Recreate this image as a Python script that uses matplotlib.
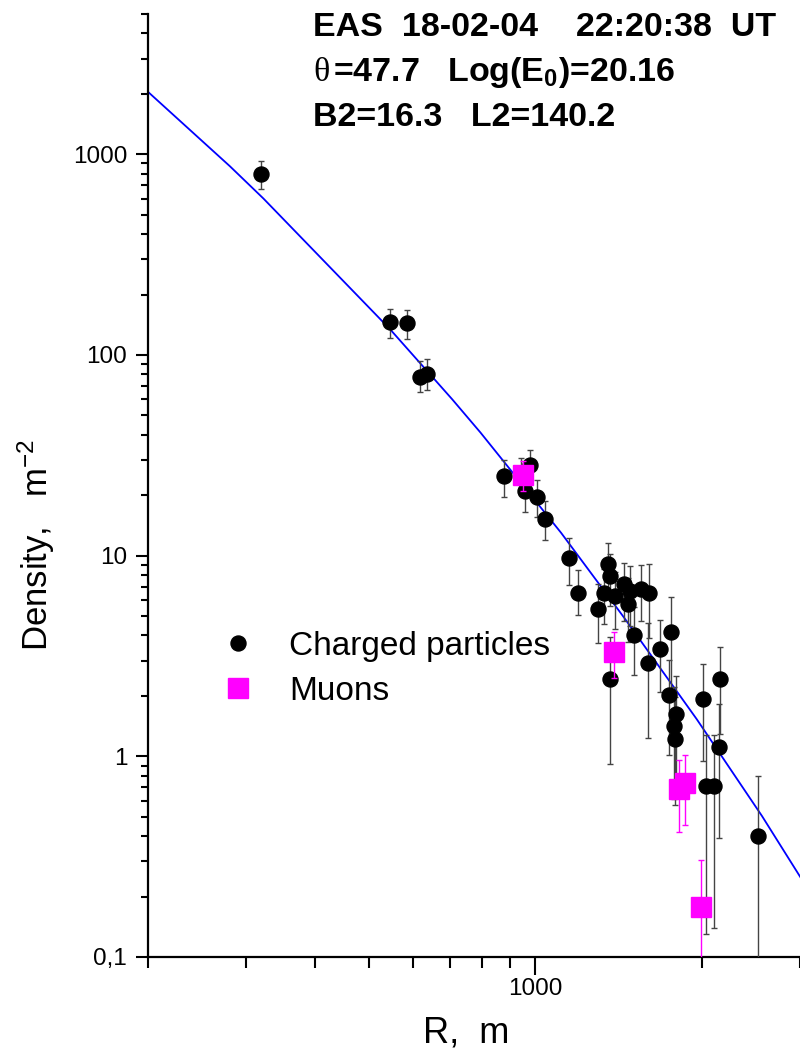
import numpy as np
import matplotlib
matplotlib.use("Agg")
import matplotlib.pyplot as plt
from matplotlib.lines import Line2D
from matplotlib.ticker import LogLocator, NullFormatter, FixedLocator, FixedFormatter, FuncFormatter

plt.rcParams['font.family'] = ['Liberation Sans', 'DejaVu Sans']
plt.rcParams['mathtext.fontset'] = 'custom'
plt.rcParams['mathtext.rm'] = 'Liberation Sans'
plt.rcParams['mathtext.it'] = 'Liberation Sans'
plt.rcParams['mathtext.bf'] = 'Liberation Sans:bold'

# charged particles: distance (m), density (m^-2), lower / upper errors
r_ch = [320, 546, 587, 620, 636, 877, 941, 959, 977, 1007, 1039, 1148, 1192, 1295,
        1331, 1350, 1361, 1361, 1393, 1446, 1468, 1483, 1503, 1552, 1600, 1594,
        1680, 1756, 1739, 1795, 1775, 1785, 2005, 2030, 2101, 2148, 2143, 2518]
rho_ch = [793, 146, 144, 78, 80, 25.0, 25.5, 21.0, 28.3, 19.7, 15.3, 9.68, 6.55, 5.45,
          6.55, 9.07, 7.9, 2.42, 6.3, 7.2, 5.73, 6.67, 4.03, 6.85, 6.5, 2.93,
          3.43, 4.15, 2.02, 1.62, 1.41, 1.22, 1.92, 0.71, 0.71, 2.42, 1.11, 0.40]
err_lo_ch = [120, 24, 24, 13, 13, 5.3, 5.3, 4.5, 5.3, 4.1, 3.4, 2.55, 1.5, 1.8,
             2.0, 2.45, 2.3, 1.5, 2.0, 2.5, 2.0, 2.2, 1.5, 2.1, 2.6, 1.7,
             1.35, 2.05, 1.0, 0.9, 0.8, 0.65, 0.97, 0.58, 0.57, 1.13, 0.72, 0.399]
err_hi_ch = [128, 24, 24, 15, 15, 5.0, 5.3, 4.5, 5.3, 4.1, 3.4, 2.6, 1.95, 1.8,
             2.0, 2.45, 2.3, 1.5, 2.0, 2.0, 2.0, 2.2, 1.5, 2.1, 2.6, 1.7,
             1.33, 2.05, 1.0, 0.9, 0.8, 0.75, 0.96, 0.56, 0.56, 1.1, 0.71, 0.40]

# muons
r_mu = [949, 1384, 1813, 1863, 1989]
rho_mu = [25.3, 3.31, 0.69, 0.733, 0.177]
err_lo_mu = [4.4, 0.84, 0.27, 0.28, 0.176]
err_hi_mu = [4.4, 0.83, 0.27, 0.28, 0.127]

# fitted LDF curve
r_fit = [200, 281, 323, 547, 708, 796, 1112, 1448, 1954, 2562, 3027]
rho_fit = [2047, 872, 602, 134, 60.0, 41.0, 13.0, 4.87, 1.53, 0.504, 0.242]

header = ["EAS  18-02-04    22:20:38  UT",
          "=47.7   Log(E$_\\mathbf{0}$)=20.16",
          "B2=16.3   L2=140.2"]

fig = plt.figure(figsize=(8, 10.56), dpi=100)
ax = fig.add_axes([148/800, 1-957/1056, 1-148/800, (957-14)/1056])

ax.plot(r_fit, rho_fit, color='#0000ff', lw=1.3, zorder=2)
ax.errorbar(r_ch, rho_ch, yerr=[err_lo_ch, err_hi_ch], fmt='o', color='black',
            ms=10.8, ecolor='#444444', elinewidth=1.0, capsize=2, capthick=1.0, zorder=3)
ax.errorbar(r_mu, rho_mu, yerr=[err_lo_mu, err_hi_mu], fmt='s', color='#ff00ff',
            ms=15, ecolor='#ff00ff', elinewidth=1.0, capsize=2, capthick=1.0, zorder=4)

ax.set_xscale('log')
ax.set_yscale('log')
ax.set_xlim(200, 3000)
ax.set_ylim(0.1, 5000)

ax.xaxis.set_major_locator(FixedLocator([1000]))
ax.xaxis.set_major_formatter(FixedFormatter(['1000']))
ax.xaxis.set_minor_locator(LogLocator(base=10, subs=range(2, 10)))
ax.xaxis.set_minor_formatter(NullFormatter())
ax.yaxis.set_major_locator(LogLocator(base=10))
ax.yaxis.set_major_formatter(FuncFormatter(lambda v, p: '0,1' if v < 0.5 else '%d' % v))
ax.yaxis.set_minor_locator(LogLocator(base=10, subs=range(2, 10)))
ax.yaxis.set_minor_formatter(NullFormatter())

for s in ['top', 'right']:
    ax.spines[s].set_visible(False)
for s in ['left', 'bottom']:
    ax.spines[s].set_linewidth(1.6)

ax.tick_params(axis='both', which='both', direction='out', width=1.5, labelsize=17.5)
ax.tick_params(axis='y', which='major', length=9, pad=6)
ax.tick_params(axis='y', which='minor', length=5)
ax.tick_params(axis='x', which='major', length=13, pad=2)
ax.tick_params(axis='x', which='minor', length=8)

ax.set_xlabel("R,  m", fontsize=26, labelpad=12)
ax.xaxis.set_label_coords((466-148)/652, -0.062)
ax.set_ylabel("Density,   m$^{-2}$", fontsize=25)
ax.yaxis.set_label_coords((57-148)/652, (957-545)/943)

handles = [Line2D([], [], ls='none', marker='o', color='black', ms=10.8),
           Line2D([], [], ls='none', marker='s', color='#ff00ff', ms=15)]
fig.legend(handles, ["Charged particles", "Muons"], loc='upper left',
           bbox_to_anchor=(221/800, 1-631/1056), frameon=False, fontsize=24,
           handlelength=1.0, handletextpad=1.05, labelspacing=0.42, borderpad=0, borderaxespad=0)

for i, line in enumerate(header):
    x0 = 333 if i == 1 else 313
    fig.text(x0/800, 1-(28+45*i)/1056, line, fontsize=24.5, fontweight='bold', va='center', ha='left')
fig.text(313/800, 1-(28+45)/1056, "\u03b8", fontsize=24.5, family='Liberation Serif',
         va='center', ha='left')

fig.savefig("out.png", dpi=100)
